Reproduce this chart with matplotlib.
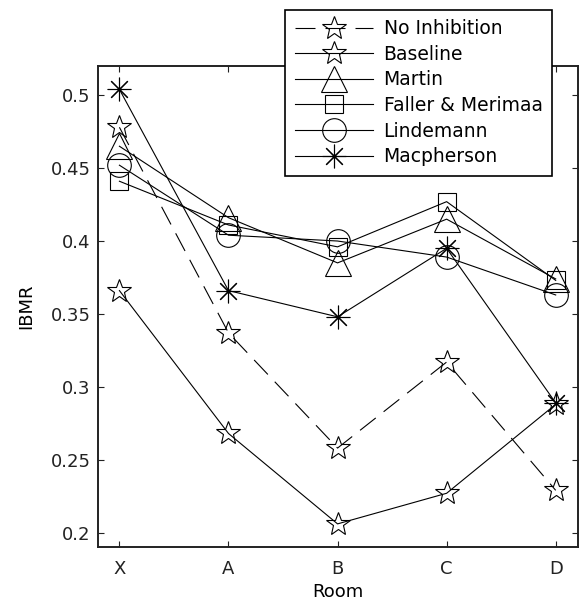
import matplotlib
matplotlib.use('Agg')
import matplotlib.pyplot as plt

plt.rcParams['font.family'] = ['DejaVu Sans']

rooms = ['X', 'A', 'B', 'C', 'D']
series_names = ['No Inhibition', 'Baseline', 'Martin', 'Faller & Merimaa',
                'Lindemann', 'Macpherson']
no_inhibition = [0.478, 0.337, 0.258, 0.317, 0.229]
baseline = [0.366, 0.268, 0.206, 0.227, 0.288]
martin = [0.465, 0.416, 0.385, 0.415, 0.374]
faller = [0.441, 0.411, 0.396, 0.427, 0.373]
lindemann = [0.452, 0.404, 0.400, 0.389, 0.363]
macpherson = [0.504, 0.366, 0.348, 0.395, 0.289]

yticks = [0.2, 0.25, 0.3, 0.35, 0.4, 0.45, 0.5]
ytick_labels = ['0.2', '0.25', '0.3', '0.35', '0.4', '0.45', '0.5']

fig = plt.figure(figsize=(5.81, 6.06), dpi=100)
ax = fig.add_axes([0.168, 0.097, 0.826, 0.794])

x = range(len(rooms))
lw = 0.8
common = dict(color='black', lw=lw, markerfacecolor='none',
              markeredgecolor='black', markeredgewidth=0.8)

ax.plot(x, no_inhibition, marker='*', ms=18, ls=(0, (18, 9)),
        label=series_names[0], **common)
ax.plot(x, baseline, marker='*', ms=18, label=series_names[1], **common)
ax.plot(x, martin, marker='^', ms=19, label=series_names[2], **common)
ax.plot(x, faller, marker='s', ms=13.5, label=series_names[3], **common)
ax.plot(x, lindemann, marker='o', ms=17, label=series_names[4], **common)
ax.plot(x, macpherson, marker=(8, 2, 0), ms=17, label=series_names[5], **common)

ax.set_xlim(-0.2, 4.2)
ax.set_ylim(0.19, 0.52)
ax.set_xticks(list(x))
ax.set_xticklabels(rooms)
ax.set_yticks(yticks)
ax.set_yticklabels(ytick_labels)
ax.tick_params(direction='in', length=4, width=0.8, top=True, right=True,
               labelsize=13, colors='#222222')
ax.tick_params(axis='x', pad=9)
ax.tick_params(axis='y', pad=5)
for s in ax.spines.values():
    s.set_linewidth(1.4)
    s.set_color('#222222')

ax.set_xlabel('Room', fontsize=13, labelpad=4)
ax.set_ylabel('IBMR', fontsize=13, labelpad=11)

leg = ax.legend(loc='upper right', bbox_to_anchor=(0.950, 0.9835),
                bbox_transform=fig.transFigure, fontsize=13.5,
                handlelength=4.2, handletextpad=0.55, labelspacing=0.35,
                borderpad=0.5, borderaxespad=0, fancybox=False,
                framealpha=1, edgecolor='black')
leg.get_frame().set_linewidth(1.2)

fig.savefig('out.png', dpi=100)
